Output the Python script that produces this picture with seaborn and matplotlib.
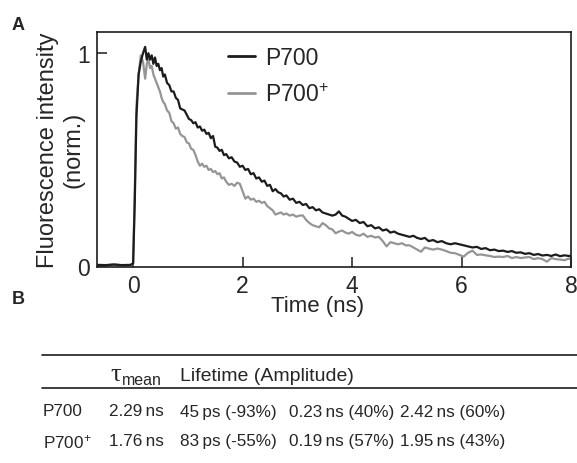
import numpy as np
import pandas as pd
import matplotlib
matplotlib.use("Agg")
import matplotlib.pyplot as plt
from matplotlib.lines import Line2D
import seaborn as sns

# Decay traces (time in ns, normalized intensity)
time_ns = [-0.66, -0.5, -0.35, -0.2, -0.05, 0.0, 0.03, 0.06, 0.1, 0.14,
           0.18, 0.22, 0.25, 0.28, 0.31, 0.34, 0.37, 0.4, 0.43, 0.46,
           0.49, 0.52, 0.55, 0.58, 0.62, 0.66, 0.7, 0.74, 0.78, 0.82,
           0.86, 0.9, 0.94, 0.98, 1.02, 1.06, 1.1, 1.14, 1.18, 1.22,
           1.26, 1.3, 1.34, 1.38, 1.42, 1.46, 1.5, 1.54, 1.58, 1.62,
           1.66, 1.7, 1.75, 1.8, 1.85, 1.9, 1.95, 2.0, 2.05, 2.1,
           2.15, 2.2, 2.25, 2.3, 2.35, 2.4, 2.45, 2.5, 2.55, 2.6,
           2.65, 2.7, 2.75, 2.8, 2.86, 2.92, 2.98, 3.04, 3.1, 3.16,
           3.22, 3.28, 3.34, 3.4, 3.46, 3.52, 3.58, 3.64, 3.7, 3.76,
           3.82, 3.88, 3.94, 4.0, 4.07, 4.14, 4.21, 4.28, 4.35, 4.42,
           4.49, 4.56, 4.63, 4.7, 4.77, 4.84, 4.91, 4.98, 5.05, 5.12,
           5.19, 5.26, 5.33, 5.4, 5.48, 5.56, 5.64, 5.72, 5.8, 5.88,
           5.96, 6.04, 6.12, 6.2, 6.28, 6.36, 6.44, 6.52, 6.6, 6.68,
           6.76, 6.84, 6.92, 7.0, 7.08, 7.16, 7.24, 7.32, 7.4, 7.48,
           7.56, 7.64, 7.72, 7.8, 7.88, 7.96, 8.0]

p700 = [0.003, 0.002, 0.004, 0.002, 0.003, 0.01, 0.3, 0.7, 0.9, 0.96,
        1.0, 1.03, 0.97, 1.0, 0.97, 0.99, 0.95, 0.98, 0.94, 0.95,
        0.92, 0.93, 0.89, 0.90, 0.86, 0.85, 0.82, 0.82, 0.79, 0.78,
        0.74, 0.735, 0.73, 0.71, 0.69, 0.685, 0.67, 0.675, 0.65, 0.655,
        0.635, 0.64, 0.62, 0.625, 0.60, 0.61, 0.56, 0.555, 0.54, 0.545,
        0.52, 0.525, 0.505, 0.51, 0.49, 0.485, 0.465, 0.47, 0.45, 0.455,
        0.43, 0.435, 0.41, 0.415, 0.395, 0.40, 0.375, 0.38, 0.35, 0.36,
        0.345, 0.34, 0.325, 0.33, 0.31, 0.315, 0.295, 0.30, 0.285, 0.29,
        0.27, 0.275, 0.26, 0.265, 0.25, 0.245, 0.24, 0.235, 0.24, 0.255,
        0.235, 0.23, 0.22, 0.21, 0.215, 0.2, 0.205, 0.185, 0.19, 0.175,
        0.18, 0.165, 0.17, 0.155, 0.16, 0.15, 0.145, 0.14, 0.135, 0.14,
        0.13, 0.125, 0.13, 0.115, 0.12, 0.11, 0.115, 0.105, 0.1, 0.105,
        0.1, 0.095, 0.09, 0.085, 0.088, 0.078, 0.082, 0.072, 0.075, 0.068,
        0.07, 0.064, 0.068, 0.06, 0.062, 0.055, 0.058, 0.05, 0.054, 0.047,
        0.05, 0.045, 0.052, 0.044, 0.048, 0.045, 0.046]

p700_plus = [0.002, 0.001, 0.007, 0.0, 0.002, 0.01, 0.35, 0.75, 0.9, 0.99,
             0.96, 0.88, 0.95, 0.97, 0.93, 0.94, 0.90, 0.88, 0.86, 0.84,
             0.82, 0.79, 0.77, 0.76, 0.73, 0.72, 0.68, 0.67, 0.645, 0.65,
             0.62, 0.61, 0.605, 0.58, 0.575, 0.55, 0.545, 0.52, 0.49, 0.47,
             0.48, 0.465, 0.47, 0.45, 0.455, 0.44, 0.445, 0.43, 0.435, 0.41,
             0.415, 0.395, 0.38, 0.385, 0.375, 0.39, 0.385, 0.35, 0.315, 0.325,
             0.31, 0.315, 0.30, 0.305, 0.295, 0.30, 0.28, 0.27, 0.26, 0.24,
             0.245, 0.25, 0.24, 0.245, 0.235, 0.24, 0.23, 0.235, 0.236, 0.215,
             0.2, 0.19, 0.185, 0.18, 0.2, 0.19, 0.175, 0.17, 0.152, 0.16,
             0.165, 0.155, 0.15, 0.158, 0.145, 0.14, 0.15, 0.135, 0.14, 0.132,
             0.135, 0.115, 0.09, 0.11, 0.105, 0.1, 0.105, 0.095, 0.095, 0.085,
             0.075, 0.065, 0.085, 0.08, 0.075, 0.08, 0.075, 0.068, 0.06, 0.058,
             0.05, 0.042, 0.06, 0.07, 0.05, 0.052, 0.048, 0.045, 0.04, 0.042,
             0.04, 0.045, 0.035, 0.04, 0.035, 0.038, 0.04, 0.03, 0.035, 0.03,
             0.018, 0.035, 0.03, 0.028, 0.025, 0.033, 0.03]

samples = ["P700", "P700$^{+}$"]
colors = ["#1c1c1c", "#959595"]

# Panel B table
row_names = ["P700", "P700$^{+}$"]
tau_mean = ["2.29\u2009ns", "1.76\u2009ns"]
comp1 = ["45\u2009ps (-93%)", "83\u2009ps (-55%)"]
comp2 = ["0.23\u2009ns (40%)", "0.19\u2009ns (57%)"]
comp3 = ["2.42\u2009ns (60%)", "1.95\u2009ns (43%)"]

df = pd.concat([
    pd.DataFrame({"t": time_ns, "I": p700, "sample": samples[0]}),
    pd.DataFrame({"t": time_ns, "I": p700_plus, "sample": samples[1]}),
])

sns.set_style("ticks")
plt.rcParams["font.family"] = ["Liberation Sans", "DejaVu Sans"]
plt.rcParams["mathtext.fontset"] = "custom"
plt.rcParams["mathtext.rm"] = "Liberation Sans"
plt.rcParams["mathtext.it"] = "Liberation Sans:italic"

W, H = 577, 464
fig = plt.figure(figsize=(W / 100, H / 100), dpi=100)
ax = fig.add_axes([97 / W, 1 - 268 / H, 474 / W, 235 / H])

sns.lineplot(data=df, x="t", y="I", hue="sample", palette=dict(zip(samples, colors)),
             hue_order=samples, estimator=None, sort=False, linewidth=1.6, ax=ax)
ax.lines[0].set_zorder(3)

ax.set_xlim(-0.66, 8)
ax.set_ylim(-0.007, 1.1)
ax.set_xticks([0, 2, 4, 6, 8])
ax.set_yticks([0, 1])
ax.tick_params(direction="in", length=7, width=1.1, labelsize=16.5, pad=5, color="#1c1c1c")
for s in ax.spines.values():
    s.set_linewidth(1.2)
    s.set_color("#1c1c1c")

ax.set_xlabel("Time (ns)", fontsize=16)
ax.xaxis.set_label_coords(221 / 474, -0.118)
ax.set_ylabel("")


def px(x, y):
    return x / W, 1 - y / H


fig.text(*px(48, 150), "Fluorescence intensity", fontsize=17, rotation=90,
         ha="center", va="center")
fig.text(*px(74, 150), "(norm.)", fontsize=17, rotation=90, ha="center", va="center")

leg = ax.legend(frameon=False, fontsize=16.5, handlelength=1.15, handletextpad=0.45,
                labelspacing=0.62, loc="upper left", bbox_to_anchor=(219 / W, 1 - 38 / H),
                bbox_transform=fig.transFigure, borderaxespad=0)
for h in leg.get_lines():
    h.set_linewidth(2)

fig.text(*px(12, 25), "A", fontsize=13, fontweight="bold", va="center")
fig.text(*px(12, 300), "B", fontsize=13, fontweight="bold", va="center")

# table rules
for yy in (356, 389):
    fig.add_artist(Line2D([42 / W, 1.0], [1 - yy / H] * 2, color="#1c1c1c", lw=1.2))

fs = 12.3
fig.text(*px(110, 375), "τ", fontsize=19, va="center", family="Liberation Serif")
fig.text(*px(122, 381), "mean", fontsize=11.5, va="center")
fig.text(*px(180, 377), "Lifetime (Amplitude)", fontsize=14, va="center")
cols = [43, 109, 180, 289, 400]
for r, yy in enumerate((412, 442)):
    vals = [row_names[r], tau_mean[r], comp1[r], comp2[r], comp3[r]]
    for xx, v in zip(cols, vals):
        fig.text(*px(xx, yy), v, fontsize=fs, va="center")

fig.savefig("out.png", dpi=100)
